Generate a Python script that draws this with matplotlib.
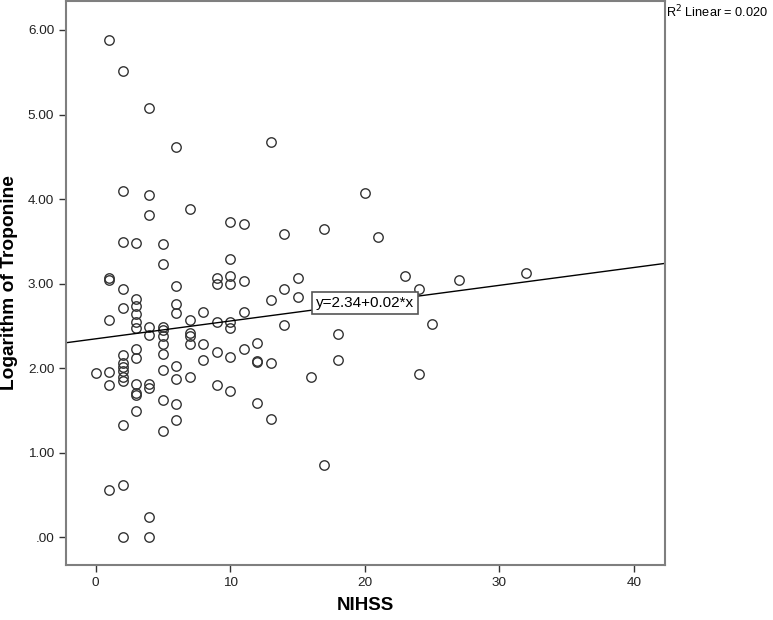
import numpy as np
import matplotlib
matplotlib.use("Agg")
import matplotlib.pyplot as plt
from matplotlib.ticker import FuncFormatter

plt.rcParams['font.family'] = ['Liberation Sans', 'DejaVu Sans']

# NIHSS score and log troponine (grouped by NIHSS value)
nihss = (
    [0]
    + [1] * 7
    + [2] * 14
    + [3] * 12
    + [4] * 9
    + [5] * 10
    + [6] * 8
    + [7] * 6
    + [8] * 3
    + [9] * 5
    + [10] * 8
    + [11] * 4
    + [12] * 4
    + [13] * 4
    + [14] * 3
    + [15] * 2
    + [16]
    + [17] * 2
    + [18] * 2
    + [20, 21, 23]
    + [24] * 2
    + [25, 27, 32]
)
log_trop = [
    1.94,
    5.88, 3.07, 3.04, 2.57, 1.95, 1.80, 0.56,
    5.51, 4.09, 3.49, 2.94, 2.71, 2.15, 2.06, 2.01, 1.96, 1.90, 1.85, 1.33, 0.62, 0.00,
    3.48, 2.82, 2.73, 2.64, 2.55, 2.47, 2.22, 2.12, 1.81, 1.70, 1.68, 1.49,
    5.08, 4.05, 3.81, 2.48, 2.39, 1.81, 1.77, 0.24, 0.00,
    3.47, 3.23, 2.48, 2.45, 2.38, 2.29, 2.17, 1.98, 1.62, 1.25,
    4.61, 2.97, 2.76, 2.65, 2.02, 1.87, 1.57, 1.39,
    3.88, 2.57, 2.41, 2.38, 2.29, 1.89,
    2.66, 2.28, 2.09,
    3.07, 3.00, 2.54, 2.19, 1.80,
    3.73, 3.29, 3.09, 3.00, 2.55, 2.47, 2.13, 1.73,
    3.70, 3.03, 2.66, 2.23,
    2.30, 2.08, 2.07, 1.59,
    4.67, 2.80, 2.06, 1.40,
    3.59, 2.93, 2.51,
    3.07, 2.84,
    1.90,
    3.65, 0.85,
    2.40, 2.09,
    4.07, 3.55, 3.09,
    2.93, 1.93,
    2.52, 3.04, 3.13,
]

# linear fit shown in the chart
fit_intercept = 2.346
fit_slope = 0.0211
fit_label = "y=2.34+0.02*x"
r2_label = "R$^2$ Linear = 0.020"

fig = plt.figure(figsize=(7.73, 6.2), dpi=100)
ax = fig.add_axes([0.0854, 0.0887, 0.7749, 0.9093])

ax.plot(nihss, log_trop, linestyle="none", marker="o", markersize=6.8,
        markerfacecolor="none", markeredgecolor="#333333", markeredgewidth=1.0)

xmin, xmax = -2.2, 42.3
ax.set_xlim(xmin, xmax)
ax.set_ylim(-0.33, 6.34)

line_x = np.array([xmin, xmax])
ax.plot(line_x, fit_intercept + fit_slope * line_x, color="black", linewidth=1.0)

ax.text(20, fit_intercept + fit_slope * 20, fit_label, fontsize=11,
        ha="center", va="center",
        bbox=dict(boxstyle="square,pad=0.25", facecolor="white",
                  edgecolor="#555555", linewidth=1.2))

ax.set_xticks([0, 10, 20, 30, 40])
ax.set_yticks([0, 1, 2, 3, 4, 5, 6])
ax.yaxis.set_major_formatter(FuncFormatter(
    lambda v, p: ("%.2f" % v).lstrip("0") if v < 1 else "%.2f" % v))
ax.tick_params(axis="both", direction="out", length=5, width=1.0,
               colors="#333333", labelsize=9.7, labelcolor="#222222")

for s in ax.spines.values():
    s.set_color("#7f7f7f")
    s.set_linewidth(1.5)

fig.text(0.012, 0.5435, "Logarithm of Troponine", rotation=90, fontsize=13.8,
         fontweight="bold", ha="center", va="center")
fig.text(0.4725, 0.023, "NIHSS", fontsize=13.5, fontweight="bold",
         ha="center", va="center")
fig.text(0.8615, 0.981, r2_label, fontsize=9.2, ha="left", va="center")

fig.savefig("out.png", dpi=100)
